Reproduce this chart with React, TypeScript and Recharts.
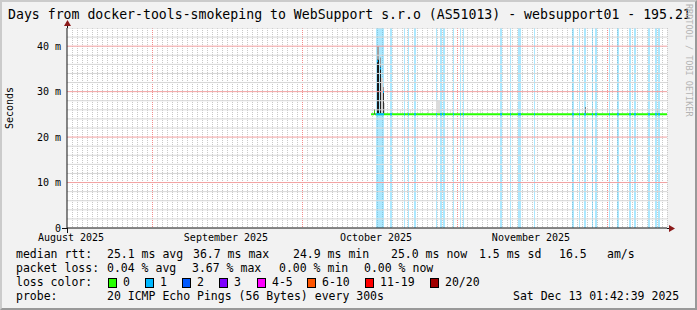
import { ComposedChart, Line, XAxis, YAxis, ReferenceArea, CartesianGrid } from 'recharts'

// x values are days counted from 1 Sep 2025, y values are milliseconds
const monthTicks = [-16.13, 14.87, 44.87, 75.87]
const monthLabels = ['August 2025', 'September 2025', 'October 2025', 'November 2025']
const monthStarts = [0, 30, 61, 91]
const msTicks = [0, 10, 20, 30, 40]
const msLabels = ['0', '10 m', '20 m', '30 m', '40 m']

// periods with 1/20 packets lost: [from, to]
const lossBars = [
  [44.87, 46.47], [47.67, 48.07], [50.47, 50.67], [51.27, 51.47], [52.47, 52.87],
  [56.87, 57.07], [57.67, 58.07], [58.27, 58.67], [60.27, 60.47], [61.67, 61.87],
  [62.27, 62.47], [69.67, 70.07], [71.67, 71.87], [73.27, 73.87], [76.47, 76.67],
  [84.07, 84.47], [85.47, 85.67], [86.47, 86.87], [88.07, 88.27], [88.67, 89.07],
  [91.47, 91.67], [93.07, 93.47], [95.47, 95.87], [96.47, 96.87], [99.27, 99.67],
  [100.67, 101.07], [101.27, 101.67],
]

// smoke: [from, to, low ms, high ms, shade]
const smoke: [number, number, number, number, string][] = [
  [44.47, 44.67, 24.9, 26.2, '#555555'],
  [45.07, 45.47, 25.0, 40.0, '#a0a0a0'],
  [45.07, 45.47, 25.0, 37.0, '#1a1a1a'],
  [45.67, 45.87, 25.0, 37.5, '#9a9a9a'],
  [45.67, 45.87, 25.0, 35.5, '#222222'],
  [45.87, 46.27, 25.0, 33.0, '#d2d2d2'],
  [46.27, 46.47, 25.0, 31.0, '#9a9a9a'],
  [46.27, 46.47, 25.0, 29.8, '#333333'],
  [46.47, 46.67, 25.0, 27.5, '#d4d4d4'],
  [49.67, 49.87, 25.2, 26.0, '#e2e2e2'],
  [51.67, 51.87, 25.2, 26.0, '#e2e2e2'],
  [53.67, 53.87, 25.2, 26.0, '#e2e2e2'],
  [55.27, 55.47, 25.2, 26.1, '#e2e2e2'],
  [56.87, 57.67, 25.3, 28.0, '#dcdcdc'],
  [59.67, 59.87, 25.2, 26.0, '#e2e2e2'],
  [63.67, 63.87, 25.2, 26.0, '#e2e2e2'],
  [65.67, 65.87, 25.2, 26.0, '#e2e2e2'],
  [86.67, 86.87, 25.2, 26.6, '#808080'],
  [88.07, 88.27, 25.2, 26.5, '#bbbbbb'],
  [91.07, 91.27, 25.2, 26.3, '#cccccc'],
  [101.07, 101.27, 25.2, 26.4, '#c8c8c8'],
]

// median rtt segments: [from, to, ms]
const medianOk = [
  [43.87, 44.47, 25.0], [44.47, 44.67, 25.6], [44.67, 103.07, 25.0],
]
const medianLossSpikes = [
  [45.07, 45.27, 36.7], [45.67, 45.87, 35.1], [46.27, 46.47, 29.9],
]

const rttStats = ['25.1 ms avg', '36.7 ms max', '24.9 ms min', '25.0 ms now', '1.5 ms sd', '16.5', 'am/s']
const lossStats = ['0.04 % avg', '3.67 % max', '0.00 % min', '0.00 % now']
const lossLabels = ['0', '1', '2', '3', '4-5', '6-10', '11-19', '20/20']
const lossColors = ['#26ff00', '#00b8ff', '#0059ff', '#7e00ff', '#ff00ff', '#ff5500', '#ff0000', '#a10000']

const rttX = [107, 193, 293, 391, 479, 559, 607]
const lossX = [107, 192, 279, 364]
const swatchX = [108, 145, 182, 219, 257, 307, 365, 430]

const FONT = '"DejaVu Sans Mono", monospace'
const X_DOMAIN = [-16.93, 103.07]
const Y_TOP = 44

const minorX = Array.from({ length: 120 }, (_, i) => i - 16).filter(d => !monthStarts.includes(d))
const minorY = Array.from({ length: 22 }, (_, i) => (i + 1) * 2).filter(v => v % 10 !== 0)
const majorY = msTicks.slice(1)

function segments(list: number[][]) {
  const rows: { d: number; v: number | null }[] = []
  list.forEach(([a, b, v]) => {
    rows.push({ d: a, v }, { d: b, v }, { d: b, v: null })
  })
  return rows
}

const lossMedian = segments([...lossBars.map(([a, b]) => [a, b, 25.0]), ...medianLossSpikes].sort((p, q) => p[0] - q[0]))
const hLine = (v: number) => [{ d: X_DOMAIN[0], v }, { d: X_DOMAIN[1], v }]

// vertical grid positions go through the x axis scale
function xGen(values: number[]) {
  return (props: any) => {
    const s = props?.xAxis?.scale
    const o = props?.offset
    return values.map(v =>
      typeof s === 'function'
        ? Math.round(s(v)) + 0.5
        : Math.round(o.left + ((v - X_DOMAIN[0]) / (X_DOMAIN[1] - X_DOMAIN[0])) * o.width) + 0.5,
    )
  }
}

const txt = { fontFamily: FONT, fontSize: 11.5, color: '#000', position: 'absolute' as const, whiteSpace: 'pre' as const, lineHeight: '14px' }

export default function App() {
  return (
    <div style={{ position: 'absolute', left: 0, top: 0, width: 697, height: 310, background: '#f2f2f2', overflow: 'hidden' }}>
      <div style={{ ...txt, fontSize: 13.2, left: 8, top: 8 }}>
        Days from docker-tools-smokeping to WebSupport s.r.o (AS51013) - websupport01 - 195.21
      </div>
      <ComposedChart width={697} height={310} margin={{ top: 28, right: 30, bottom: 62, left: 7 }} style={{ position: 'absolute', left: 0, top: 0 }}>
        <CartesianGrid
          fill="#ffffff"
          stroke="#c8c8c8"
          strokeDasharray="1 1"
          horizontal={false}
          verticalCoordinatesGenerator={xGen(minorX)}
        />
        <CartesianGrid
          stroke="#f08a8a"
          strokeDasharray="1 1"
          horizontal={false}
          verticalCoordinatesGenerator={xGen(monthStarts)}
        />
        <XAxis
          type="number"
          dataKey="d"
          domain={X_DOMAIN}
          allowDataOverflow
          ticks={monthTicks}
          interval={0}
          tickFormatter={(v: number) => monthLabels[monthTicks.indexOf(v)]}
          tickSize={0}
          tickMargin={6}
          height={20}
          axisLine={{ stroke: '#101010' }}
          tick={{ fontFamily: FONT, fontSize: 10, fill: '#000' }}
        />
        <YAxis
          type="number"
          domain={[0, Y_TOP]}
          allowDataOverflow
          ticks={msTicks}
          interval={0}
          tickFormatter={(v: number) => msLabels[msTicks.indexOf(v)]}
          tickSize={0}
          tickMargin={6}
          width={60}
          axisLine={{ stroke: '#101010' }}
          tick={{ fontFamily: FONT, fontSize: 10, fill: '#000' }}
        />
        {minorY.map(v => (
          <Line key={`gy${v}`} data={hLine(v)} dataKey="v" stroke="#d6d6d6" strokeWidth={1} dot={false} activeDot={false} isAnimationActive={false} />
        ))}
        {majorY.map(v => (
          <Line key={`Gy${v}`} data={hLine(v)} dataKey="v" stroke="#f2a0a0" strokeWidth={1} dot={false} activeDot={false} isAnimationActive={false} />
        ))}
        {lossBars.map(([a, b], i) => (
          <ReferenceArea key={`lb${i}`} x1={a} x2={b} y1={0} y2={Y_TOP} fill="#00b8ff" fillOpacity={0.33} stroke="none" ifOverflow="hidden" />
        ))}
        {smoke.map(([a, b, lo, hi, c], i) => (
          <ReferenceArea key={`sm${i}`} x1={a} x2={b} y1={lo} y2={hi} fill={c} fillOpacity={1} stroke="none" ifOverflow="hidden" />
        ))}
        <Line data={segments(medianOk)} dataKey="v" stroke="#26ff00" strokeWidth={2} dot={false} isAnimationActive={false} connectNulls={false} />
        <Line data={lossMedian} dataKey="v" stroke="#00b8ff" strokeWidth={2} dot={false} isAnimationActive={false} connectNulls={false} />
      </ComposedChart>
      <svg width={697} height={310} style={{ position: 'absolute', left: 0, top: 0, pointerEvents: 'none' }}>
        <line x1={67.5} y1={233} x2={67.5} y2={228} stroke="#101010" />
        <line x1={67.5} y1={28} x2={67.5} y2={24} stroke="#101010" />
        <line x1={62} y1={228.5} x2={67} y2={228.5} stroke="#101010" />
        <line x1={667} y1={228.5} x2={670} y2={228.5} stroke="#101010" />
        <polygon points="64,26 71,26 67.5,20" fill="#8b1a1a" />
        <polygon points="669,225 669,232 675,228.5" fill="#8b1a1a" />
      </svg>
      <div style={{ ...txt, fontSize: 10, left: 3, top: 122, transform: 'translate(0,-50%) rotate(-90deg)', transformOrigin: '7px 50%' }}>Seconds</div>
      <div style={{ ...txt, fontSize: 8.5, left: 682, top: 4, writingMode: 'vertical-rl', color: '#b4b4b4' }}>RRDTOOL / TOBI OETIKER</div>

      <div style={{ ...txt, left: 16, top: 247 }}>median rtt:</div>
      {rttStats.map((s, i) => (
        <div key={`r${i}`} style={{ ...txt, left: rttX[i], top: 247 }}>{s}</div>
      ))}
      <div style={{ ...txt, left: 16, top: 261 }}>packet loss:</div>
      {lossStats.map((s, i) => (
        <div key={`l${i}`} style={{ ...txt, left: lossX[i], top: 261 }}>{s}</div>
      ))}
      <div style={{ ...txt, left: 16, top: 275 }}>loss color:</div>
      {lossLabels.map((s, i) => (
        <div key={`c${i}`}>
          <div style={{ position: 'absolute', left: swatchX[i], top: 278, width: 7, height: 8, background: lossColors[i], border: '1px solid #000' }} />
          <div style={{ ...txt, left: swatchX[i] + 15, top: 275 }}>{s}</div>
        </div>
      ))}
      <div style={{ ...txt, left: 16, top: 289 }}>probe:</div>
      <div style={{ ...txt, left: 107, top: 289 }}>20 ICMP Echo Pings (56 Bytes) every 300s</div>
      <div style={{ ...txt, left: 513, top: 289 }}>Sat Dec 13 01:42:39 2025</div>

      <div style={{ position: 'absolute', left: 0, top: 0, width: 697, height: 310, boxSizing: 'border-box', borderTop: '2px solid #cbcbcb', borderLeft: '2px solid #cbcbcb', borderRight: '2px solid #999999', borderBottom: '2px solid #999999', pointerEvents: 'none' }} />
    </div>
  )
}
